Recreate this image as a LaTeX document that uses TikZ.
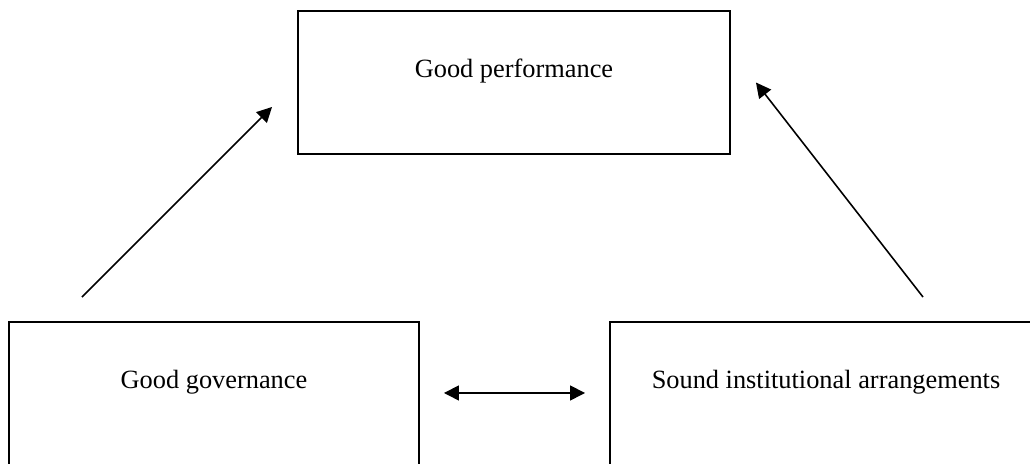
\documentclass[tikz,border=0pt]{standalone}
\usepackage{fontspec}
\setmainfont{Liberation Serif}
\usetikzlibrary{arrows.meta}

\begin{document}
\begin{tikzpicture}[
  box/.style={draw=black, line width=1.1pt, rectangle, inner sep=0pt},
  boxtext/.style={anchor=center, yshift=-1.22cm, font=\fontsize{15}{18}\selectfont},
  link/.style={draw=black, line width=0.9pt, -{Triangle[length=0.3cm, width=0.3cm]}}
]
\useasboundingbox (0,0) rectangle (20.6,9.28);
\node [box, minimum width=8.64cm, minimum height=2.86cm,
  label={[boxtext]north:Good performance}] (perf) at (10.28,7.63) {};
\node [box, minimum width=8.2cm, minimum height=3.2cm,
  label={[boxtext]north:Good governance}] (gov) at (4.28,1.24) {};
\node [box, minimum width=8.64cm, minimum height=3.2cm,
  label={[boxtext]north:Sound institutional arrangements}] (inst) at (16.52,1.24) {};
\coordinate (govtail) at ([xshift=-2.64cm, yshift=0.48cm]gov.north);
\coordinate (perftipl) at ([xshift=-0.5cm, yshift=-0.49cm]perf.west);
\coordinate (insttail) at ([xshift=1.94cm, yshift=0.48cm]inst.north);
\coordinate (perftipr) at ([xshift=0.5cm]perf.east);
\draw [link] (govtail) -- (perftipl);
\draw [link] (insttail) -- (perftipr);
\draw [link, {Triangle[length=0.3cm, width=0.3cm]}-{Triangle[length=0.3cm, width=0.3cm]}]
  ([xshift=0.48cm, yshift=0.18cm]gov.east) -- ([xshift=-0.48cm, yshift=0.18cm]inst.west);
\end{tikzpicture}
\end{document}
